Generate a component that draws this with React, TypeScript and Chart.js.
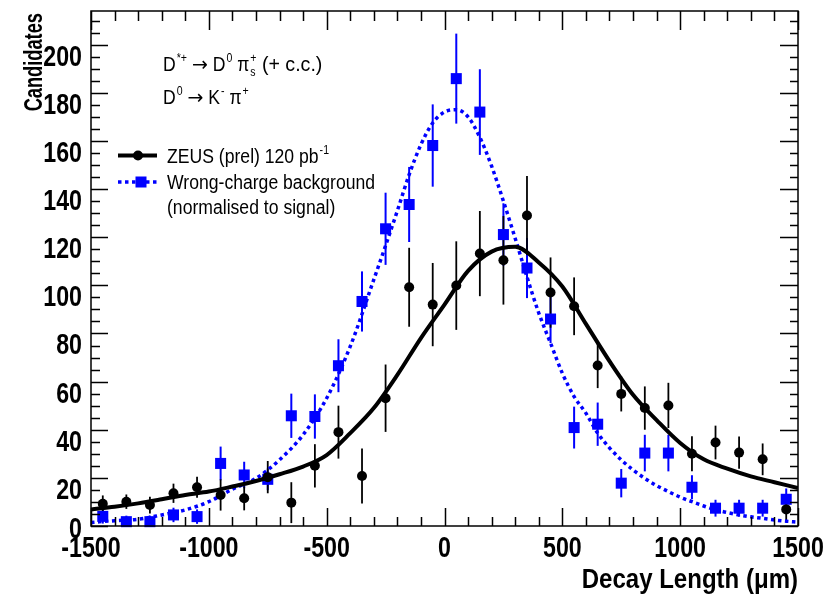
import React, { useEffect, useRef } from "react";
import { Chart, registerables } from "chart.js";

Chart.register(...registerables);

// ---- data ----
const BINS = [-1450, -1350, -1250, -1150, -1050, -950, -850, -750, -650, -550, -450, -350, -250, -150, -50,
  50, 150, 250, 350, 450, 550, 650, 750, 850, 950, 1050, 1150, 1250, 1350, 1450];

const ZEUS = [9.2, 10.1, 8.7, 13.6, 16.1, 12.9, 11.5, 20.3, 9.7, 25, 39, 20.8, 53.1, 99.2, 92,
  99.9, 113.2, 110.4, 129, 97, 91.3, 66.7, 54.9, 49, 50.1, 30, 34.7, 30.5, 27.7, 6.9];
const ZEUS_ERR = [3.5, 3, 3.5, 4, 4.4, 6.5, 5, 6.7, 8.5, 9, 11, 11.4, 14, 16.4, 17.3,
  18.4, 17.7, 18.4, 16.4, 14.6, 12, 9.4, 7.3, 9, 9.4, 7.3, 7, 6.7, 6.6, 5];

const WRONG = [4, 1.8, 1.8, 4.6, 3.9, 26, 21.2, 19.4, 45.8, 45.5, 66.6, 93.3, 123.5, 133.6, 158.1,
  185.9, 172, 121.1, 107.2, 86, 40.9, 42.3, 17.8, 30.3, 30.3, 16.1, 7.4, 7.4, 7.4, 11.1];
const WRONG_ERR = [3, 2.5, 2.5, 3, 3, 7, 5.5, 4.5, 9.2, 9.2, 11, 12.5, 15, 15.6, 17.1,
  18.7, 17.8, 13, 12.5, 10, 8.7, 9, 5.9, 7.6, 7.6, 5, 3.5, 3.5, 3.5, 4.5];

const ZEUS_FIT_X = [-1500, -1400, -1300, -1200, -1100, -1000, -900, -800, -700, -600, -500, -400, -300, -200, -100,
  0, 100, 200, 300, 400, 500, 600, 700, 800, 900, 1000, 1100, 1200, 1300, 1400, 1500];
const ZEUS_FIT_Y = [6.9, 8.0, 9.4, 11.1, 12.9, 14.3, 16.4, 18.7, 21.5, 24.7, 29.5, 38.6, 49, 62.8, 78.1,
  92, 106, 114, 116, 109.5, 99.5, 84, 68.5, 54.5, 44, 34.5, 27.7, 23.8, 20.6, 18.2, 15.8];

const WRONG_FIT_X = [-1500, -1400, -1300, -1200, -1100, -1000, -900, -800, -700, -600, -500, -400, -300, -250, -200,
  -150, -100, -50, 0, 50, 100, 150, 200, 250, 300, 350, 400, 450, 500, 550, 600, 650, 700, 750, 800, 850, 900,
  950, 1000, 1050, 1100, 1150, 1200, 1250, 1300, 1350, 1400, 1450, 1500];
const WRONG_FIT_Y = [1.5, 2.2, 2.8, 4.6, 6.7, 10.1, 15.3, 19.8, 27.5, 37.9, 53.1, 74.6, 102.4, 116.5, 131,
  146, 158.5, 167.5, 172, 173, 170, 161.5, 149.5, 135, 119.5, 103.5, 88.5, 76, 63.5, 53.8, 46.9, 38.6, 32.5, 27.5, 23.3, 19.8, 16.8,
  14.3, 12, 10.1, 8.3, 6.7, 5.6, 4.6, 3.8, 3.2, 2.5, 2.0, 1.6];

const X_TICKS = [-1500, -1000, -500, 0, 500, 1000, 1500];
const X_TICK_LABELS = ["-1500", "-1000", "-500", "0", "500", "1000", "1500"];
const Y_TICKS = [0, 20, 40, 60, 80, 100, 120, 140, 160, 180, 200];
const Y_TICK_LABELS = ["0", "20", "40", "60", "80", "100", "120", "140", "160", "180", "200"];
const X_MINOR_STEP = 100;
const Y_MINOR_STEP = 5;
const X_MIN = -1500;
const X_MAX = 1500;
const Y_MIN = 0;
const Y_MAX = 214;

const X_TITLE = "Decay Length (\u03bcm)";
const Y_TITLE = "Candidates";
const LEGEND_ZEUS = "ZEUS (prel) 120 pb";
const LEGEND_WRONG_1 = "Wrong-charge background";
const LEGEND_WRONG_2 = "(normalised to signal)";

const BLUE = "#0000ff";
const FONT = '"Liberation Sans", Arial, Helvetica, sans-serif';
const ARROW_FONT = '"DejaVu Sans", sans-serif';

type Part = { t: string; sup?: string; sub?: string; f?: string; sx?: number };

function sText(ctx: CanvasRenderingContext2D, text: string, x: number, y: number, font: string, sx: number,
  align: CanvasTextAlign, baseline: CanvasTextBaseline = "alphabetic") {
  ctx.save();
  ctx.translate(x, y);
  ctx.scale(sx, 1);
  ctx.font = font;
  ctx.textAlign = align;
  ctx.textBaseline = baseline;
  ctx.fillText(text, 0, 0);
  ctx.restore();
}

function rich(ctx: CanvasRenderingContext2D, parts: Part[], x: number, y: number, size: number, sx: number) {
  let cx = x;
  const small = Math.round(size * 0.62);
  for (const p of parts) {
    if (p.t) {
      const f = `${size}px ${p.f || FONT}`;
      const s = p.sx || sx;
      sText(ctx, p.t, cx, y, f, s, "left");
      ctx.font = f;
      cx += ctx.measureText(p.t).width * s;
    }
    let w = 0;
    const sf = `${small}px ${FONT}`;
    if (p.sup) {
      sText(ctx, p.sup, cx + 1, y - size * 0.45, sf, sx, "left");
      ctx.font = sf;
      w = Math.max(w, ctx.measureText(p.sup).width * sx + 1);
    }
    if (p.sub) {
      sText(ctx, p.sub, cx + 1, y + size * 0.25, sf, sx, "left");
      ctx.font = sf;
      w = Math.max(w, ctx.measureText(p.sub).width * sx + 1);
    }
    cx += w;
  }
}

const rootPlugin = {
  id: "rootStyle",
  beforeDatasetsDraw(chart: any) {
    const ctx: CanvasRenderingContext2D = chart.ctx;
    const xs = chart.scales.x;
    const ys = chart.scales.y;
    const ca = chart.chartArea;
    const bars = (vals: number[], errs: number[], color: string, lw: number) => {
      ctx.save();
      ctx.strokeStyle = color;
      ctx.lineWidth = lw;
      for (let i = 0; i < BINS.length; i++) {
        const x = xs.getPixelForValue(BINS[i]);
        const y1 = Math.min(ca.bottom, ys.getPixelForValue(Math.max(Y_MIN, vals[i] - errs[i])));
        const y2 = Math.max(ca.top, ys.getPixelForValue(vals[i] + errs[i]));
        ctx.beginPath();
        ctx.moveTo(x, y1);
        ctx.lineTo(x, y2);
        ctx.stroke();
      }
      ctx.restore();
    };
    bars(WRONG, WRONG_ERR, BLUE, 2);
    bars(ZEUS, ZEUS_ERR, "#000", 1.8);
  },
  afterDraw(chart: any) {
    const ctx: CanvasRenderingContext2D = chart.ctx;
    const xs = chart.scales.x;
    const ys = chart.scales.y;
    const ca = chart.chartArea;
    ctx.save();
    // frame
    ctx.strokeStyle = "#000";
    ctx.lineWidth = 1.5;
    ctx.strokeRect(ca.left, ca.top, ca.right - ca.left, ca.bottom - ca.top);
    // x ticks
    ctx.beginPath();
    for (let v = X_MIN; v <= X_MAX + 0.001; v += X_MINOR_STEP) {
      const x = Math.round(xs.getPixelForValue(v)) + 0.5;
      const major = X_TICKS.includes(v);
      ctx.moveTo(x, ca.bottom);
      ctx.lineTo(x, ca.bottom - (major ? 18 : 9));
      ctx.moveTo(x, ca.top);
      ctx.lineTo(x, ca.top + (major ? 19 : 10));
    }
    // y ticks
    for (let v = Y_MIN; v <= Y_MAX; v += Y_MINOR_STEP) {
      const y = Math.round(ys.getPixelForValue(v)) + 0.5;
      const major = Y_TICKS.includes(v);
      ctx.moveTo(ca.left, y);
      ctx.lineTo(ca.left + (major ? 17 : 9), y);
      ctx.moveTo(ca.right, y);
      ctx.lineTo(ca.right - (major ? 18 : 8), y);
    }
    ctx.stroke();

    ctx.fillStyle = "#000";
    const tickFont = `bold 29px ${FONT}`;
    // x tick labels
    X_TICKS.forEach((v, i) => {
      sText(ctx, X_TICK_LABELS[i], xs.getPixelForValue(v), 557, tickFont, 0.8, "center");
    });
    // y tick labels
    Y_TICKS.forEach((v, i) => {
      const yc = v === 0 ? ys.getPixelForValue(v) + 1.5 : ys.getPixelForValue(v) + 10.5;
      sText(ctx, Y_TICK_LABELS[i], 82, yc + 10.4, tickFont, 0.8, "right");
    });
    // axis titles
    sText(ctx, X_TITLE, ca.right, 588, `bold 27px ${FONT}`, 0.89, "right");
    ctx.save();
    ctx.translate(41.5, ca.top + 2);
    ctx.rotate(-Math.PI / 2);
    sText(ctx, Y_TITLE, 0, 0, `bold 25px ${FONT}`, 0.73, "right");
    ctx.restore();

    // annotation
    rich(ctx, [{ t: "D", sup: "*+" }, { t: " " }, { t: "\u2192", f: ARROW_FONT, sx: 0.95 }, { t: " D", sup: "0" },
      { t: " \u03c0", sup: "+", sub: "s" }, { t: " (+ c.c.)", sx: 0.98 }], 163, 71, 20, 0.88);
    rich(ctx, [{ t: "D", sup: "0" }, { t: " " }, { t: "\u2192", f: ARROW_FONT, sx: 0.95 }, { t: " K", sup: "-" },
      { t: " \u03c0", sup: "+" }], 163, 104, 20, 0.88);

    // legend
    ctx.strokeStyle = "#000";
    ctx.lineWidth = 4;
    ctx.beginPath();
    ctx.moveTo(118, 155.5);
    ctx.lineTo(157, 155.5);
    ctx.stroke();
    ctx.fillStyle = "#000";
    ctx.beginPath();
    ctx.arc(138, 155.5, 5, 0, Math.PI * 2);
    ctx.fill();

    ctx.strokeStyle = BLUE;
    ctx.lineWidth = 3.5;
    ctx.setLineDash([3.5, 3.5]);
    ctx.beginPath();
    ctx.moveTo(118, 182);
    ctx.lineTo(157, 182);
    ctx.stroke();
    ctx.setLineDash([]);
    ctx.fillStyle = BLUE;
    ctx.fillRect(135.5, 176.5, 11, 11);

    ctx.fillStyle = "#000";
    rich(ctx, [{ t: LEGEND_ZEUS, sup: "-1" }], 167, 163, 20, 0.88);
    rich(ctx, [{ t: LEGEND_WRONG_1 }], 167, 189, 20, 0.88);
    rich(ctx, [{ t: LEGEND_WRONG_2 }], 167, 214, 20, 0.88);
    ctx.restore();
  },
};

export default function App() {
  const ref = useRef<HTMLCanvasElement | null>(null);
  useEffect(() => {
    document.body.style.margin = "0";
    const canvas = ref.current;
    if (!canvas) return;
    const pts = (xs: number[], ys: number[]) => xs.map((x, i) => ({ x, y: ys[i] }));
    const chart = new Chart(canvas, {
      type: "scatter",
      data: {
        datasets: [
          {
            label: "ZEUS fit",
            data: pts(ZEUS_FIT_X, ZEUS_FIT_Y),
            showLine: true,
            borderColor: "#000",
            borderWidth: 4,
            pointRadius: 0,
            cubicInterpolationMode: "monotone",
            order: 0,
          },
          {
            label: "ZEUS (prel) 120 pb-1",
            data: pts(BINS, ZEUS),
            pointStyle: "circle",
            pointRadius: 5,
            backgroundColor: "#000",
            borderColor: "#000",
            borderWidth: 0,
            clip: false,
            order: 1,
          },
          {
            label: "Wrong-charge fit",
            data: pts(WRONG_FIT_X, WRONG_FIT_Y),
            showLine: true,
            borderColor: BLUE,
            borderWidth: 3.5,
            borderDash: [3.5, 3.5],
            pointRadius: 0,
            cubicInterpolationMode: "monotone",
            order: 2,
          },
          {
            label: "Wrong-charge background",
            data: pts(BINS, WRONG),
            pointStyle: "rect",
            pointRadius: 7.8,
            backgroundColor: BLUE,
            borderColor: BLUE,
            borderWidth: 0,
            clip: false,
            order: 3,
          },
        ],
      } as any,
      options: {
        responsive: false,
        animation: false,
        devicePixelRatio: 1,
        layout: { padding: { left: 91, right: 40, top: 11, bottom: 71 } },
        plugins: { legend: { display: false }, tooltip: { enabled: false } },
        events: [],
        scales: {
          x: { type: "linear", min: X_MIN, max: X_MAX, display: false },
          y: { type: "linear", min: Y_MIN, max: Y_MAX, display: false },
        },
      } as any,
      plugins: [rootPlugin],
    });
    return () => chart.destroy();
  }, []);
  return (
    <div style={{ width: 838, height: 597, background: "#fff" }}>
      <canvas ref={ref} width={838} height={597} style={{ display: "block" }} />
    </div>
  );
}
